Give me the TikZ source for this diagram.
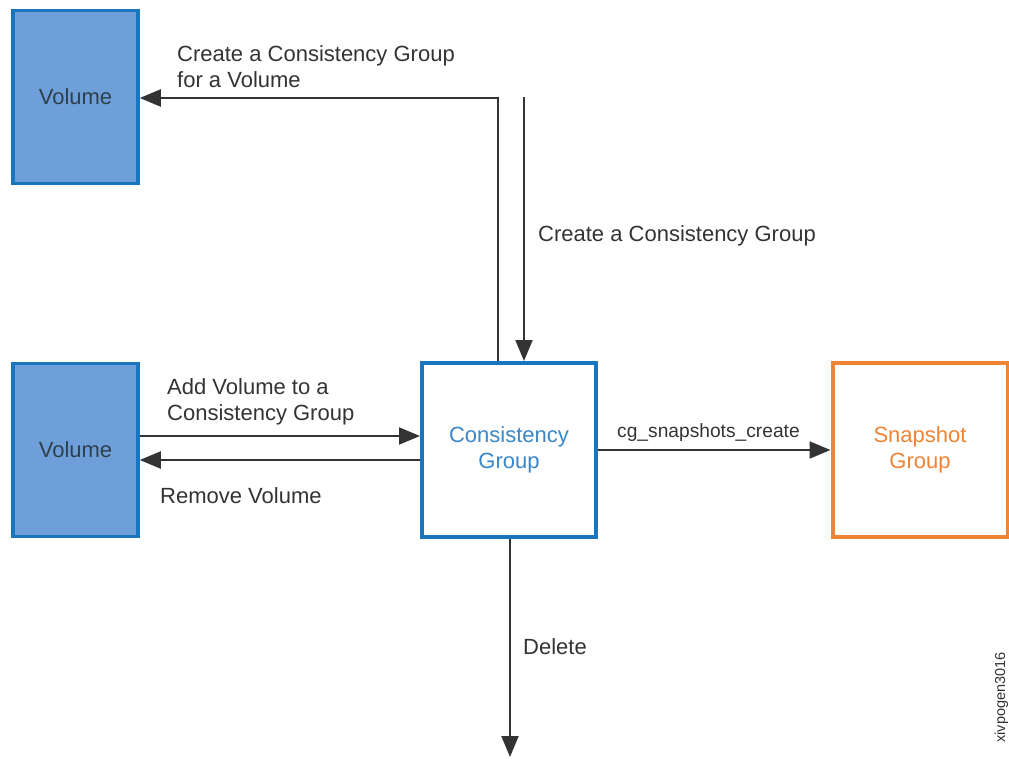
\documentclass[tikz,border=0pt]{standalone}
\usepackage{fontspec}
\setmainfont{Liberation Sans}
\usetikzlibrary{arrows.meta}
\definecolor{boxblue}{HTML}{1B75BC}
\definecolor{volfill}{HTML}{6F9FD8}
\definecolor{cgtext}{HTML}{3A87C8}
\definecolor{snaporange}{HTML}{EE8434}
\definecolor{ink}{HTML}{333333}
\begin{document}
\begin{tikzpicture}[x=1pt,y=-1pt,
  every node/.style={font=\fontsize{22}{26}\selectfont, text=ink},
  volbox/.style={draw=boxblue, fill=volfill, line width=3.5pt, minimum width=125pt, minimum height=173pt, inner sep=0pt, text=ink!80!boxblue},
  cgbox/.style={draw=boxblue, fill=white, line width=4pt, minimum width=174pt, minimum height=174pt, inner sep=0pt, align=center, text=cgtext},
  snapbox/.style={draw=snaporange, fill=white, line width=4pt, minimum width=175pt, minimum height=174pt, inner sep=0pt, align=center, text=snaporange},
  lbl/.style={anchor=base west, align=left, inner sep=0pt},
  arr/.style={draw=ink, line width=2pt, -{Triangle[length=21pt,width=17pt]}}
]
\useasboundingbox (0,0) rectangle (1009,759);

% boxes
\node[volbox] (vol1) at (75.5,97) {Volume};
\node[volbox] (vol2) at (75.5,450) {Volume};
\node[cgbox] (cg) at (509,450) {Consistency\\Group};
\node[snapbox] (snap) at (920,450) {Snapshot\\Group};

% connector end points
\coordinate (t1) at (498,98);
\coordinate (t2) at (524,97);
\coordinate (dEnd) at (510,757);

% create a consistency group for a volume (base = last line)
\draw[arr] (cg.north -| t1) -- (t1) -- (vol1.east |- t1);
\node[lbl] (l1) at (177,88) {Create a Consistency Group\\for a Volume};

% create a consistency group
\draw[arr] (t2) -- (cg.north -| t2);
\node[lbl] (l2) at (538,242) {Create a Consistency Group};

% add / remove volume
\draw[arr] ([yshift=14pt]vol2.east) -- ([yshift=14pt]cg.west);
\draw[arr] ([yshift=-10pt]cg.west) -- ([yshift=-10pt]vol2.east);
\node[lbl] (l3) at (167,420) {Add Volume to a\\Consistency Group};
\node[lbl] (l4) at (160,503) {Remove Volume};

% snapshot
\draw[arr] (cg.east) -- (snap.west);
\node[lbl, font=\fontsize{19.2}{22}\selectfont] (l5) at (617,437) {cg\_snapshots\_create};

% delete
\draw[arr] (cg.south -| dEnd) -- (dEnd);
\node[lbl] (l6) at (523,654) {Delete};

% figure id
\node[rotate=90, anchor=base east, inner sep=0pt, font=\fontsize{14.5}{16}\selectfont] (fid) at (1005,652) {xivpogen3016};
\end{tikzpicture}
\end{document}
